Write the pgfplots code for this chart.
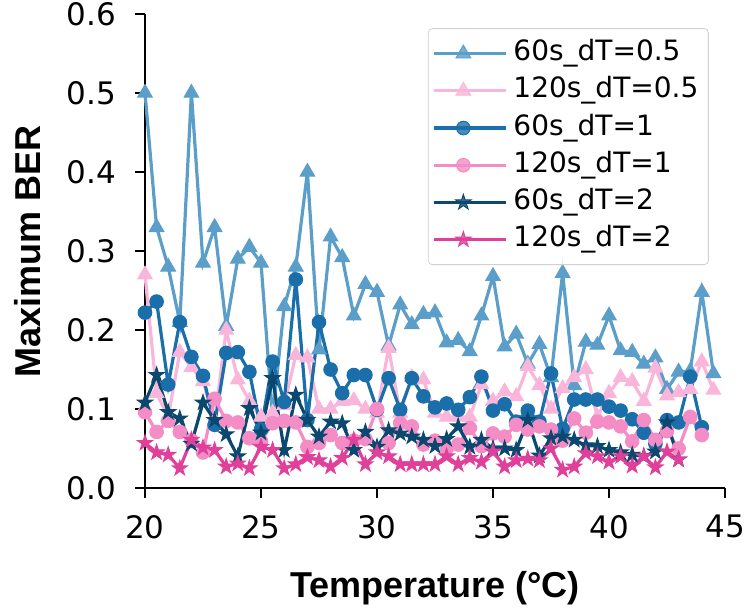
\documentclass[border=0pt]{standalone}
\usepackage{fontspec}
\setmainfont{DejaVu Sans}
\newfontfamily\labelfont{Liberation Sans}
\usepackage{pgfplots}
\pgfplotsset{compat=1.18}
\usepackage{pgfplotstable}

\definecolor{cA}{RGB}{90,158,201}
\definecolor{cB}{RGB}{250,182,218}
\definecolor{cC}{RGB}{26,111,170}
\definecolor{cD}{RGB}{244,140,198}
\definecolor{cE}{RGB}{11,72,112}
\definecolor{cF}{RGB}{224,64,154}

\pgfdeclareplotmark{fstar}{%
  \pgfpathmoveto{\pgfqpointpolar{90}{\pgfplotmarksize}}%
  \pgfpathlineto{\pgfqpointpolar{126}{0.382\pgfplotmarksize}}%
  \pgfpathlineto{\pgfqpointpolar{162}{\pgfplotmarksize}}%
  \pgfpathlineto{\pgfqpointpolar{198}{0.382\pgfplotmarksize}}%
  \pgfpathlineto{\pgfqpointpolar{234}{\pgfplotmarksize}}%
  \pgfpathlineto{\pgfqpointpolar{270}{0.382\pgfplotmarksize}}%
  \pgfpathlineto{\pgfqpointpolar{306}{\pgfplotmarksize}}%
  \pgfpathlineto{\pgfqpointpolar{342}{0.382\pgfplotmarksize}}%
  \pgfpathlineto{\pgfqpointpolar{18}{\pgfplotmarksize}}%
  \pgfpathlineto{\pgfqpointpolar{54}{0.382\pgfplotmarksize}}%
  \pgfpathclose\pgfusepathqfillstroke}

\pgfplotstableread{
x a b c d e f
20 0.50 0.27 0.222 0.096 0.108 0.057
20.5 0.33 0.12 0.236 0.071 0.143 0.045
21 0.28 0.09 0.131 0.085 0.096 0.042
21.5 0.21 0.172 0.21 0.071 0.088 0.025
22 0.50 0.153 0.166 0.06 0.056 0.061
22.5 0.285 0.135 0.142 0.045 0.108 0.051
23 0.33 0.085 0.08 0.113 0.086 0.048
23.5 0.205 0.2 0.171 0.085 0.068 0.027
24 0.29 0.137 0.172 0.083 0.04 0.031
24.5 0.305 0.11 0.147 0.063 0.101 0.025
25 0.285 0.09 0.074 0.059 0.07 0.052
25.5 0.09 0.095 0.16 0.082 0.139 0.048
26 0.23 0.105 0.109 0.085 0.048 0.025
26.5 0.28 0.168 0.264 0.083 0.118 0.03
27 0.40 0.165 0.086 0.052 0.086 0.039
27.5 0.175 0.1 0.21 0.057 0.065 0.035
28 0.318 0.1 0.15 0.067 0.084 0.027
28.5 0.292 0.11 0.12 0.057 0.082 0.038
29 0.218 0.111 0.143 0.06 0.048 0.061
29.5 0.258 0.1 0.143 0.062 0.071 0.03
30 0.248 0.095 0.099 0.1 0.052 0.045
30.5 0.18 0.177 0.139 0.057 0.073 0.04
31 0.232 0.095 0.099 0.082 0.069 0.03
31.5 0.207 0.14 0.139 0.078 0.065 0.03
32 0.22 0.137 0.116 0.055 0.061 0.03
32.5 0.222 0.095 0.102 0.06 0.053 0.03
33 0.184 0.09 0.107 0.05 0.062 0.04
33.5 0.187 0.09 0.099 0.055 0.078 0.03
34 0.173 0.09 0.115 0.076 0.052 0.038
34.5 0.218 0.131 0.141 0.053 0.061 0.033
35 0.268 0.11 0.098 0.069 0.05 0.046
35.5 0.179 0.122 0.106 0.065 0.05 0.027
36 0.195 0.116 0.084 0.08 0.048 0.035
36.5 0.157 0.154 0.098 0.074 0.086 0.037
37 0.182 0.13 0.084 0.078 0.041 0.035
37.5 0.14 0.1 0.145 0.074 0.063 0.05
38 0.272 0.126 0.075 0.06 0.065 0.023
38.5 0.13 0.14 0.112 0.088 0.061 0.027
39 0.185 0.15 0.112 0.07 0.054 0.044
39.5 0.181 0.09 0.112 0.084 0.053 0.04
40 0.218 0.12 0.103 0.083 0.048 0.033
40.5 0.174 0.14 0.098 0.078 0.045 0.04
41 0.172 0.135 0.087 0.059 0.042 0.028
41.5 0.157 0.11 0.07 0.086 0.04 0.04
42 0.165 0.152 0.056 0.061 0.046 0.026
42.5 0.125 0.117 0.086 0.072 0.083 0.046
43 0.147 0.121 0.083 0.05 0.036 0.036
43.5 0.148 0.125 0.141 0.09 nan nan
44 0.248 0.16 0.077 0.067 nan nan
44.5 0.145 0.124 nan nan nan nan
}\datatable

\begin{document}
\begin{tikzpicture}
\begin{axis}[
  name=ax,
  scale only axis,
  width=290pt, height=237pt,
  xmin=20, xmax=45, ymin=0, ymax=0.6,
  axis x line*=bottom, axis y line*=left,
  axis line style={line width=1pt, black},
  xtick={20,25,30,35,40,45},
  ytick={0,0.1,0.2,0.3,0.4,0.5,0.6},
  yticklabel style={xshift=-6pt, /pgf/number format/.cd, fixed, fixed zerofill, precision=1},
  xticklabel style={yshift=-5pt},
  /pgf/number format/assume math mode=true,
  tick align=outside,
  major tick length=5pt,
  tick style={line width=1pt, black},
  ticklabel style={font=\fontsize{15.5}{18}\selectfont},
  xlabel={\labelfont\bfseries Temperature (°C)},
  ylabel={\labelfont\bfseries Maximum BER},
  label style={font=\fontsize{18}{21}\selectfont},
  xlabel style={at={(rel axis cs:0.5,0)}, anchor=base, yshift=-54.5pt},
  ylabel style={at={(rel axis cs:0,0.5)}, anchor=base, yshift=52pt},
  clip=false,
  legend style={at={(0.972,0.970)}, anchor=north east,
    draw=black!18, rounded corners=2pt, fill=white, fill opacity=0.8, text opacity=1,
    font=\fontsize{14}{16}\selectfont,
    inner xsep=2pt, inner ysep=5pt, row sep=3.6pt,
    nodes={inner xsep=3pt, inner ysep=1pt, text height=10pt, text depth=3pt}},
  legend cell align=left,
  legend image code/.code={\draw[mark repeat=2,mark phase=2,#1] plot coordinates {(0pt,0pt) (14.75pt,0pt) (29.5pt,0pt)};
    \path (29.5pt,0pt) -- (36pt,0pt);},
  every axis plot/.append style={line width=1.6pt},
]
\addplot[cA, mark=triangle*, mark size=4.2pt, mark options={solid, line width=0.5pt, fill=cA}] table[x=x, y=a] {\datatable};
\addlegendentry{60s\_dT=0.5}
\addplot[cB, mark=triangle*, mark size=4.2pt, mark options={solid, line width=0.5pt, fill=cB}] table[x=x, y=b] {\datatable};
\addlegendentry{120s\_dT=0.5}
\addplot[cC, mark=*, mark size=3.4pt, mark options={solid, line width=0.5pt, fill=cC}] table[x=x, y=c] {\datatable};
\addlegendentry{60s\_dT=1}
\addplot[cD, mark=*, mark size=3.4pt, mark options={solid, line width=0.5pt, fill=cD}] table[x=x, y=d] {\datatable};
\addlegendentry{120s\_dT=1}
\addplot[cE, mark=fstar, mark size=4pt, mark options={solid, line width=0.5pt, fill=cE}] table[x=x, y=e] {\datatable};
\addlegendentry{60s\_dT=2}
\addplot[cF, mark=fstar, mark size=4pt, mark options={solid, line width=0.5pt, fill=cF}] table[x=x, y=f] {\datatable};
\addlegendentry{120s\_dT=2}
\end{axis}
\pgfresetboundingbox
\path[use as bounding box] (ax.south west) ++(-72.5pt,-61.5pt) rectangle ++(373.5pt,305.5pt);
\end{tikzpicture}
\end{document}
